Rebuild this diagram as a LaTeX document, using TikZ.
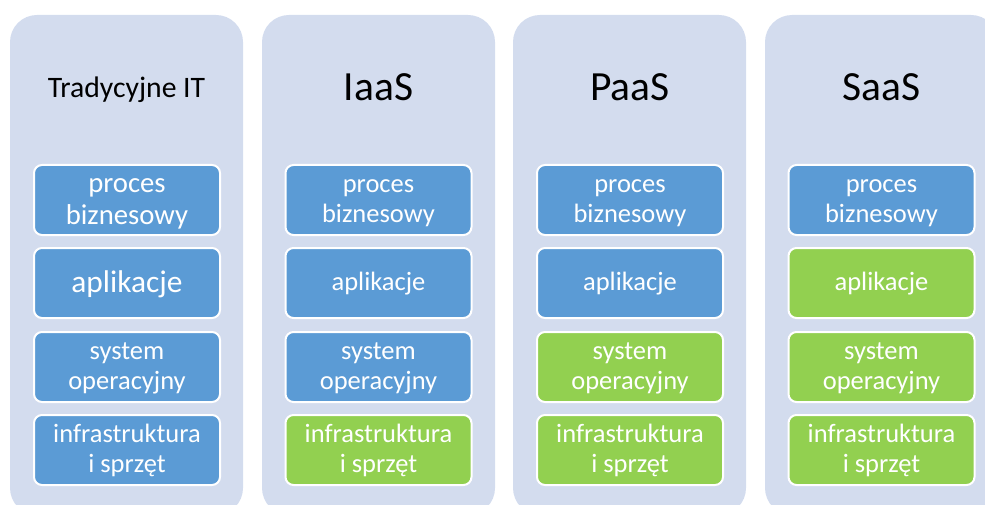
\documentclass[tikz,border=0pt]{standalone}
\usepackage{fontspec}
\setmainfont{Carlito}
\definecolor{colbg}{HTML}{D3DCEE}
\definecolor{blu}{HTML}{5B9BD5}
\definecolor{grn}{HTML}{92D050}
\newcommand\lstr{\rule[-0.26em]{0pt}{1.1em}}
\tikzset{
  column/.style={fill=colbg, rounded corners=27pt},
  layer/.style={draw=white, line width=2pt, rounded corners=8pt,
    minimum width=186pt, minimum height=70pt, text=white, align=center,
    inner sep=0pt, font=\fontsize{26.5}{29.15}\selectfont},
  bluelayer/.style={layer, fill=blu},
  greenlayer/.style={layer, fill=grn},
  bigtitle/.style={anchor=base, font=\fontsize{41.5}{45}\selectfont},
  smalltitle/.style={anchor=base, font=\fontsize{29.7}{32}\selectfont}
}
\begin{document}
\begin{tikzpicture}[x=1pt,y=-1pt]
\useasboundingbox (0,0) rectangle (985,505);
\clip (0,0) rectangle (985,505);
% columns
\path[column] (10,15) rectangle (243,515);
\path[column] (262,15) rectangle (495,515);
\path[column] (513,15) rectangle (746,515);
\path[column] (765,15) rectangle (998,515);
% titles
\node[smalltitle] (t1) at (126.5,98) {Tradycyjne IT};
\node[bigtitle] (t2) at (378.5,101) {IaaS};
\node[bigtitle] (t3) at (630,101) {PaaS};
\node[bigtitle] (t4) at (881.5,101) {SaaS};
% column 1
\node[bluelayer, font=\fontsize{28.7}{31.6}\selectfont] (a1) at (127,200) {proces\lstr\\biznesowy\lstr};
\node[bluelayer, font=\fontsize{31.4}{34.5}\selectfont] (b1) at (127,283) {aplikacje\lstr};
\node[bluelayer] (c1) at (127,367) {system\lstr\\operacyjny\lstr};
\node[bluelayer] (d1) at (127,450) {infrastruktura\lstr\\i sprzęt\lstr};
% column 2
\node[bluelayer] (a2) at (378.5,200) {proces\lstr\\biznesowy\lstr};
\node[bluelayer] (b2) at (378.5,283) {aplikacje\lstr};
\node[bluelayer] (c2) at (378.5,367) {system\lstr\\operacyjny\lstr};
\node[greenlayer] (d2) at (378.5,450) {infrastruktura\lstr\\i sprzęt\lstr};
% column 3
\node[bluelayer] (a3) at (630,200) {proces\lstr\\biznesowy\lstr};
\node[bluelayer] (b3) at (630,283) {aplikacje\lstr};
\node[greenlayer] (c3) at (630,367) {system\lstr\\operacyjny\lstr};
\node[greenlayer] (d3) at (630,450) {infrastruktura\lstr\\i sprzęt\lstr};
% column 4
\node[bluelayer] (a4) at (881.5,200) {proces\lstr\\biznesowy\lstr};
\node[greenlayer] (b4) at (881.5,283) {aplikacje\lstr};
\node[greenlayer] (c4) at (881.5,367) {system\lstr\\operacyjny\lstr};
\node[greenlayer] (d4) at (881.5,450) {infrastruktura\lstr\\i sprzęt\lstr};
\end{tikzpicture}
\end{document}
